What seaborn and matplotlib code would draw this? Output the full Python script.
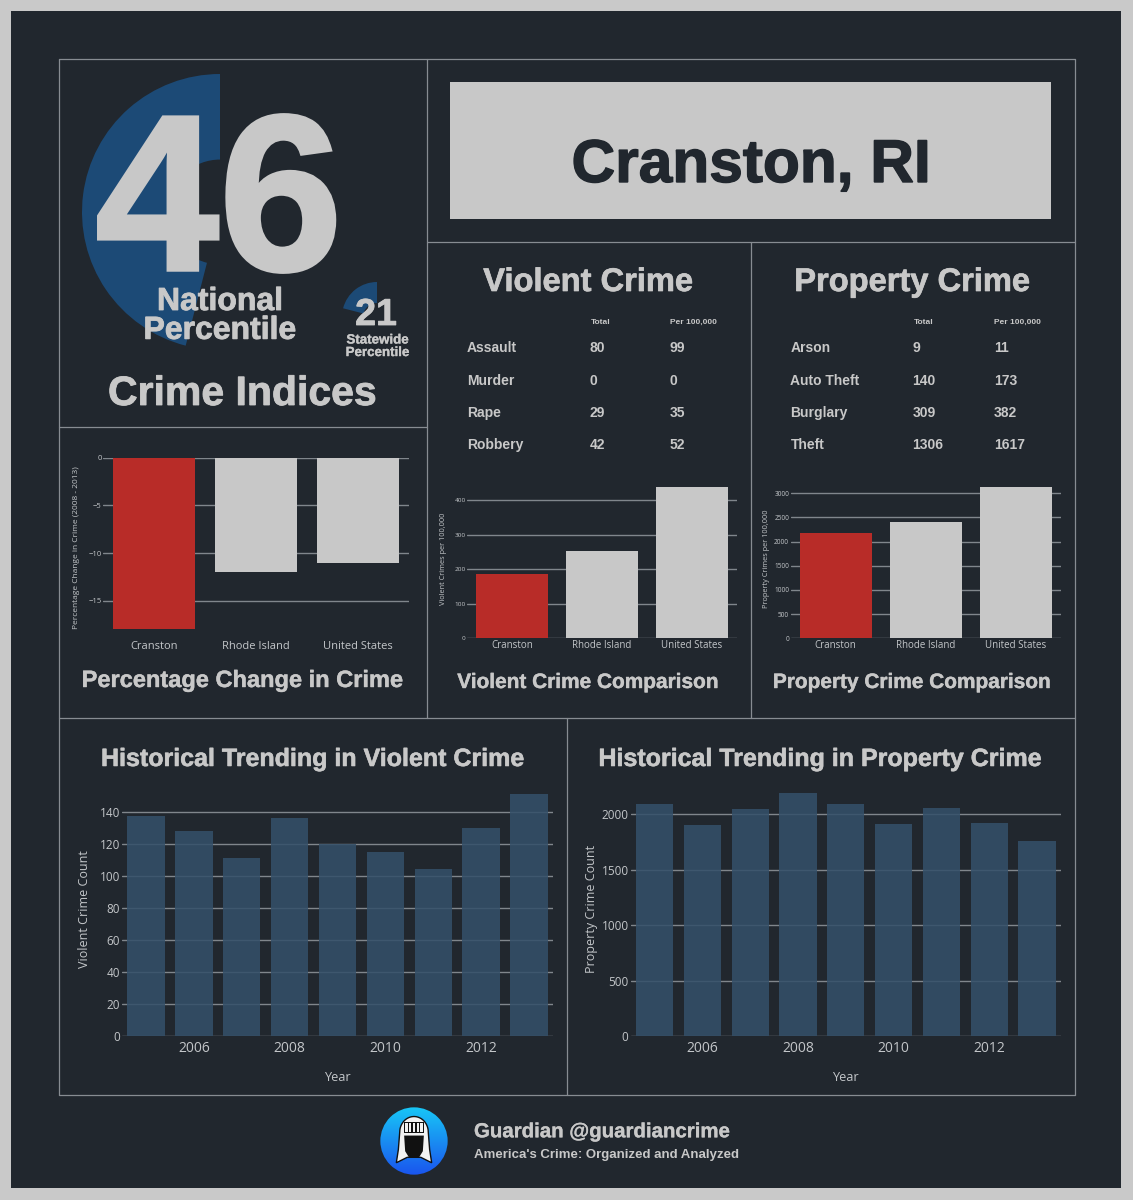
import matplotlib
matplotlib.use("Agg")
import matplotlib.pyplot as plt
import matplotlib.patheffects as pe
import seaborn as sns
import numpy as np
import pandas as pd
from matplotlib.patches import Rectangle, Circle, Polygon
from matplotlib.lines import Line2D

# ---------------- data ----------------
city = "Cranston, RI"
national_percentile = 46
statewide_percentile = 21

places = ["Cranston", "Rhode Island", "United States"]
pct_change = [-18, -12, -11]
violent_rates = [186, 252, 438]
property_rates = [2183, 2400, 3137]

violent_types = ["Assault", "Murder", "Rape", "Robbery"]
violent_totals = [80, 0, 29, 42]
violent_per100k = [99, 0, 35, 52]

property_types = ["Arson", "Auto Theft", "Burglary", "Theft"]
property_totals = [9, 140, 309, 1306]
property_per100k = [11, 173, 382, 1617]

years = [2005, 2006, 2007, 2008, 2009, 2010, 2011, 2012, 2013]
violent_counts = [137, 128, 111, 136, 120, 115, 104, 130, 151]
property_counts = [2095, 1900, 2050, 2190, 2090, 1913, 2054, 1922, 1755]

year_ticks = [2006, 2008, 2010, 2012]

# ---------------- style ----------------
BG = "#21272e"
FRAME = "#c9c9c9"
LIGHT = "#c8c8c8"
TICK = "#c3c6c9"
GRID = "#80868c"
LINE = "#878c92"
RED = "#b82c28"
BLUE = "#1c4a76"
HIST = "#34506a"

sns.set_theme(style="dark", rc={"axes.facecolor": "none", "figure.facecolor": FRAME})
plt.rcParams["font.family"] = ["Open Sans", "DejaVu Sans"]
HEAD = ["Liberation Sans", "DejaVu Sans"]

W, H = 1133, 1200
fig = plt.figure(figsize=(W / 100, H / 100), dpi=100, facecolor=FRAME)


def fx(x):
    return x / W


def fy(y):
    return 1 - y / H


def add_ax(x0, y0, x1, y1):
    return fig.add_axes([fx(x0), fy(y1), (x1 - x0) / W, (y1 - y0) / H])


def T(x, y, s, size, color=LIGHT, weight="bold", ha="center", va="baseline", family=HEAD,
      stroke=0.0, **kw):
    t = fig.text(fx(x), fy(y), s, fontsize=size, color=color, fontweight=weight,
                 ha=ha, va=va, family=family, **kw)
    if stroke > 0:
        t.set_path_effects([pe.withStroke(linewidth=stroke, foreground=color, joinstyle="miter")])
    return t


# dark card
fig.add_artist(Rectangle((fx(11), fy(1188)), (1121 - 11) / W, (1188 - 11) / H,
                         transform=fig.transFigure, facecolor=BG, edgecolor="none", zorder=-10))


def hline(y, x0, x1):
    fig.add_artist(Line2D([fx(x0), fx(x1)], [fy(y), fy(y)], transform=fig.transFigure,
                          color=LINE, lw=0.9, zorder=-5))


def vline(x, y0, y1):
    fig.add_artist(Line2D([fx(x), fx(x)], [fy(y0), fy(y1)], transform=fig.transFigure,
                          color=LINE, lw=0.9, zorder=-5))


hline(58.5, 58.5, 1075)
hline(1095, 58.5, 1075)
vline(58.5, 58.5, 1095)
vline(1075, 58.5, 1095)
vline(427, 58.5, 718)
hline(427, 58.5, 427)
hline(242, 427, 1075)
vline(751, 242, 718)
hline(718, 58.5, 1075)
vline(567, 718, 1095)

# ---------------- crime indices (donuts) ----------------
axd = add_ax(220 - 138, 212 - 138, 220 + 138, 212 + 138)
axd.pie([national_percentile, 100 - national_percentile], colors=[BLUE, (0, 0, 0, 0)],
        startangle=90, counterclock=True, radius=1, wedgeprops=dict(width=0.62, linewidth=0))
axd.set_xlim(-1, 1)
axd.set_ylim(-1, 1)
axd.axis("off")

axs = add_ax(377 - 35, 317 - 35, 377 + 35, 317 + 35)
axs.pie([statewide_percentile, 100 - statewide_percentile], colors=[BLUE, (0, 0, 0, 0)],
        startangle=90, counterclock=True, radius=1, wedgeprops=dict(width=0.6, linewidth=0))
axs.set_xlim(-1, 1)
axs.set_ylim(-1, 1)
axs.axis("off")

T(219, 270, str(national_percentile), 160, stroke=2.5)
T(220, 287, "National\nPercentile", 23, va="top", linespacing=0.95, stroke=0.6)
T(376, 325, str(statewide_percentile), 27, stroke=0.6)
T(377.5, 334.5, "Statewide\nPercentile", 9.6, va="top", linespacing=1.06, stroke=0.2)
T(242, 405, "Crime Indices", 29.5, stroke=0.6)

# ---------------- city header ----------------
fig.add_artist(Rectangle((fx(450), fy(219)), (1051 - 450) / W, (219 - 82) / H,
                         transform=fig.transFigure, facecolor=LIGHT, edgecolor="none", zorder=-4))
T(751, 182, city, 43.5, color=BG, stroke=1.0)

# ---------------- tables ----------------
T(588, 291, "Violent Crime", 23.5, stroke=0.5)
T(912, 291, "Property Crime", 23.5, stroke=0.5)
row_y = [352.3, 384.6, 416.9, 449.2]

T(591, 324, "Total", 6, ha="left")
T(670, 324, "Per 100,000", 6, ha="left")
for y, name, tot, per in zip(row_y, violent_types, violent_totals, violent_per100k):
    T(467, y, name, 10, ha="left")
    T(589.5, y, str(tot), 10, ha="left")
    T(670, y, str(per), 10, ha="left")

T(913.5, 324, "Total", 6, ha="left")
T(994, 324, "Per 100,000", 6, ha="left")
for y, name, tot, per in zip(row_y, property_types, property_totals, property_per100k):
    T(790.5, y, name, 10, ha="left")
    T(912.5, y, str(tot), 10, ha="left")
    T(994, y, str(per), 10, ha="left")


# ---------------- comparison bar charts ----------------
def style_ax(ax, ytick_fs, xtick_fs, xpad, ypad=1):
    sns.despine(ax=ax, left=True, bottom=True)
    ax.set_facecolor("none")
    ax.grid(axis="y", color=GRID, lw=1.0)
    ax.grid(axis="x", visible=False)
    ax.set_axisbelow(True)
    ax.tick_params(axis="y", length=0, colors=TICK, labelsize=ytick_fs, pad=ypad)
    ax.tick_params(axis="x", length=0, colors=TICK, labelsize=xtick_fs, pad=xpad)


def set_ylabel(ax, text, fs, xc_px, box):
    x0, y0, x1, y1 = box
    ax.set_ylabel(text, fontsize=fs, color=TICK)
    ax.yaxis.label.set_verticalalignment("center")
    ax.yaxis.set_label_coords((xc_px - x0) / (x1 - x0), 0.5)


def comparison(box, values, ylim, yticks, ylabel, ylabel_x, ytick_fs, xtick_fs, ylabel_fs, xpad):
    ax = add_ax(*box)
    df = pd.DataFrame({"place": places, "value": values})
    sns.barplot(data=df, x="place", y="value", hue="place", palette=[RED, LIGHT, LIGHT],
                width=0.8, saturation=1, errorbar=None, legend=False, ax=ax, linewidth=0)
    ax.set_xlim(-0.5, 2.5)
    ax.set_ylim(*ylim)
    ax.set_yticks(yticks)
    ax.set_yticklabels([str(v).replace("-", "\u2212") for v in yticks])
    ax.set_xlabel("")
    style_ax(ax, ytick_fs, xtick_fs, xpad)
    set_ylabel(ax, ylabel, ylabel_fs, ylabel_x, box)
    return ax


box_pct = (103, 457.7, 409, 638.3)
comparison(box_pct, pct_change, (-18.95, 0), [0, -5, -10, -15],
           "Percentage Change in Crime (2008 - 2013)", 76.7, 5.5, 8, 6, 1.8)
T(242.5, 687, "Percentage Change in Crime", 17, stroke=0.3)

box_vc = (467, 478.9, 737, 638.3)
comparison(box_vc, violent_rates, (0, 461), [0, 100, 200, 300, 400],
           "Violent Crimes per 100,000", 443.3, 4.6, 7, 5.3, 1.5)
T(588.5, 688, "Violent Crime Comparison", 15, stroke=0.3)

box_pc = (790.5, 478.9, 1060.5, 638.3)
comparison(box_pc, property_rates, (0, 3297), [0, 500, 1000, 1500, 2000, 2500, 3000],
           "Property Crimes per 100,000", 766.7, 4.7, 7, 5.3, 1.5)
T(912.5, 688, "Property Crime Comparison", 15, stroke=0.3)


# ---------------- historical charts ----------------
def historical(box, counts, ylim, yticks, ylabel, ylabel_x):
    ax = add_ax(*box)
    df = pd.DataFrame({"year": years, "count": counts})
    sns.barplot(data=df, x="year", y="count", native_scale=True, width=0.78, color=HIST,
                saturation=1, alpha=0.86, errorbar=None, ax=ax, linewidth=0)
    ax.set_xlim(years[0] - 0.5, years[-1] + 0.5)
    ax.set_ylim(*ylim)
    ax.set_yticks(yticks)
    ax.set_xticks(year_ticks)
    ax.set_xticklabels([str(y) for y in year_ticks])
    style_ax(ax, 8.5, 10, 3.2, ypad=1.5)
    set_ylabel(ax, ylabel, 9, ylabel_x, box)
    ax.set_xlabel("Year", fontsize=9.2, color=TICK)
    ax.xaxis.label.set_verticalalignment("center")
    x0, y0, x1, y1 = box
    ax.xaxis.set_label_coords(0.5, (y1 - 1077.7) / (y1 - y0))
    return ax


box_hv = (122, 781, 553, 1036.3)
historical(box_hv, violent_counts, (0, 159), [0, 20, 40, 60, 80, 100, 120, 140],
           "Violent Crime Count", 84)
T(312.5, 766, "Historical Trending in Violent Crime", 18, stroke=0.4)

box_hp = (630.6, 781, 1061, 1036.3)
historical(box_hp, property_counts, (0, 2300), [0, 500, 1000, 1500, 2000],
           "Property Crime Count", 591.7)
T(820, 766, "Historical Trending in Property Crime", 18, stroke=0.4)

# ---------------- footer / logo ----------------
axl = add_ax(380, 1107, 448, 1175)
axl.set_xlim(-1, 1)
axl.set_ylim(-1, 1)
axl.axis("off")
grad = np.linspace(0, 1, 64).reshape(-1, 1)
cmap = matplotlib.colors.LinearSegmentedColormap.from_list("g", ["#18c6f6", "#1a55ee"])
im = axl.imshow(grad, extent=(-1, 1, -1, 1), cmap=cmap, origin="upper", aspect="auto")
circ = Circle((0, 0), 0.99, transform=axl.transData, facecolor="none", edgecolor="none")
axl.add_patch(circ)
im.set_clip_path(circ)
t = np.linspace(0, np.pi, 30)
dome = list(zip(0.42 * np.cos(t), 0.26 + 0.46 * np.sin(t)))
helmet = dome + [(-0.42, 0.26), (-0.46, -0.25), (-0.52, -0.64), (-0.20, -0.48),
                 (0.20, -0.48), (0.52, -0.64), (0.46, -0.25), (0.42, 0.26)]
axl.add_patch(Polygon(helmet, closed=True, facecolor="#f2f2f2", edgecolor="#111111", lw=1.0))
axl.add_patch(Polygon([(-0.29, 0.16), (0.29, 0.16), (0.26, -0.30), (0.15, -0.48),
                       (-0.15, -0.48), (-0.26, -0.30)], closed=True,
                      facecolor="#111111", edgecolor="none"))
axl.add_patch(Rectangle((-0.30, 0.24), 0.60, 0.32, facecolor="#111111", edgecolor="none"))
for gx in np.linspace(-0.22, 0.22, 5):
    axl.add_patch(Rectangle((gx - 0.035, 0.27), 0.07, 0.26, facecolor="#f2f2f2", edgecolor="none"))

T(474, 1137.3, "Guardian @guardiancrime", 14.7, ha="left", stroke=0.2)
T(474, 1158.3, "America's Crime: Organized and Analyzed", 9.5, ha="left")

fig.savefig("out.png", dpi=100, facecolor=FRAME)
